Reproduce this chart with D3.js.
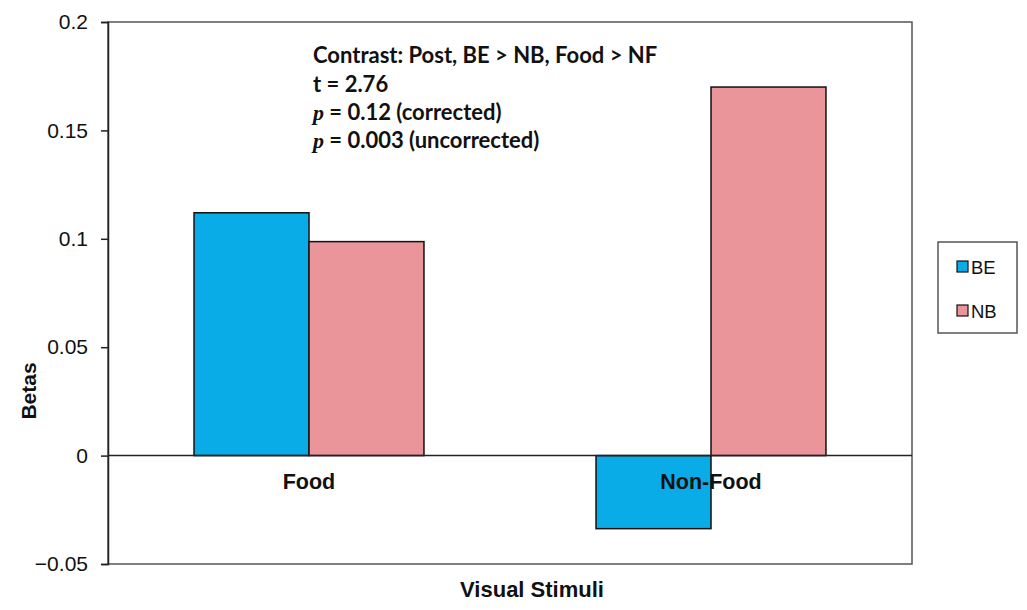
<!DOCTYPE html>
<html><head><meta charset="utf-8">
<script src="https://cdn.jsdelivr.net/npm/d3@7"></script>
<style>body{margin:0;background:#fff}svg{display:block}</style>
</head><body><svg id="c" width="1027" height="610"></svg>
<script>
const categories = ["Food", "Non-Food"];
const seriesNames = ["BE", "NB"];
const BE = [0.112, -0.0337];
const NB = [0.0987, 0.170];
const yTicks = [0.2, 0.15, 0.1, 0.05, 0, -0.05];
const colors = {BE: "#09ACE6", NB: "#E99599"};

const svg = d3.select("#c");
const m = {l:108, r:912, t:22, b:564};
const y = d3.scaleLinear().domain([-0.05, 0.2]).range([m.b, m.t]);
const x = d3.scaleBand().domain(categories).range([m.l, m.r]).paddingInner(0.428).paddingOuter(0.214);
const xs = d3.scaleBand().domain(seriesNames).range([0, x.bandwidth()]);

const data = categories.map((c,i)=>({cat:c, vals:[{k:"BE",v:BE[i]},{k:"NB",v:NB[i]}]}));

// frame
svg.append("rect").attr("x",m.l).attr("y",m.t).attr("width",m.r-m.l).attr("height",m.b-m.t)
  .attr("fill","none").attr("stroke","#555").attr("stroke-width",1.5);

// bars
const g = svg.append("g");
data.forEach(d=>{
  d.vals.forEach(s=>{
    g.append("rect")
      .attr("x", x(d.cat)+xs(s.k))
      .attr("y", y(Math.max(0,s.v)))
      .attr("width", xs.bandwidth())
      .attr("height", Math.abs(y(s.v)-y(0)))
      .attr("fill", colors[s.k]).attr("stroke","#111").attr("stroke-width",1.5);
  });
});

// zero line
svg.append("line").attr("x1",m.l).attr("x2",m.r).attr("y1",y(0)).attr("y2",y(0))
  .attr("stroke","#222").attr("stroke-width",1.5);

// y axis
const ya = d3.axisLeft(y).tickValues(yTicks).tickSize(7).tickPadding(13)
  .tickFormat(d=> d<0 ? "\u2212"+String(Math.abs(d)) : String(d));
const yg = svg.append("g").attr("transform",`translate(${m.l},0)`).call(ya);
yg.select(".domain").attr("stroke","#222").attr("stroke-width",1.5);
yg.selectAll(".tick line").attr("stroke","#222").attr("stroke-width",1.5);
yg.selectAll("text").attr("font-family","Liberation Sans, Arial, sans-serif").attr("font-size",21).attr("fill","#111");

// category labels
svg.append("g").selectAll("text").data(categories).join("text")
  .attr("x", d=>x(d)+x.bandwidth()/2).attr("y", y(0)+33)
  .attr("text-anchor","middle").attr("font-family","Liberation Sans, Arial, sans-serif")
  .attr("font-weight","bold").attr("font-size",21.5).attr("fill","#111").text(d=>d);

// axis titles
svg.append("text").attr("x",532).attr("y",597).attr("text-anchor","middle")
  .attr("font-family","Liberation Sans, Arial, sans-serif").attr("font-weight","bold")
  .attr("font-size",22).attr("fill","#111").text("Visual Stimuli");
svg.append("text").attr("transform","translate(36,391) rotate(-90)").attr("text-anchor","middle")
  .attr("font-family","Liberation Sans, Arial, sans-serif").attr("font-weight","bold")
  .attr("font-size",21).attr("fill","#111").text("Betas");

// annotation
const ann = svg.append("g").attr("font-family","Lato, 'Open Sans', sans-serif").attr("font-weight","bold")
  .attr("font-size",22).attr("fill","#111");
ann.append("text").attr("x",313).attr("y",63).text("Contrast: Post, BE > NB, Food > NF");
ann.append("text").attr("x",313).attr("y",92).text("t = 2.76");
const t3 = ann.append("text").attr("x",313).attr("y",120);
t3.append("tspan").attr("font-family","Liberation Serif, serif").attr("font-style","italic").text("p");
t3.append("tspan").text(" = 0.12 (corrected)");
const t4 = ann.append("text").attr("x",313).attr("y",148);
t4.append("tspan").attr("font-family","Liberation Serif, serif").attr("font-style","italic").text("p");
t4.append("tspan").text(" = 0.003 (uncorrected)");

// legend
const lg = svg.append("g");
lg.append("rect").attr("x",938).attr("y",242).attr("width",79).attr("height",91)
  .attr("fill","#fff").attr("stroke","#555").attr("stroke-width",1.5);
seriesNames.forEach((s,i)=>{
  lg.append("rect").attr("x",957).attr("y",261+i*44).attr("width",11).attr("height",11)
    .attr("fill",colors[s]).attr("stroke","#111").attr("stroke-width",1.2);
  lg.append("text").attr("x",971).attr("y",274+i*44).attr("font-family","Liberation Sans, Arial, sans-serif")
    .attr("font-size",18.5).attr("fill","#111").text(s);
});
</script></body></html>
